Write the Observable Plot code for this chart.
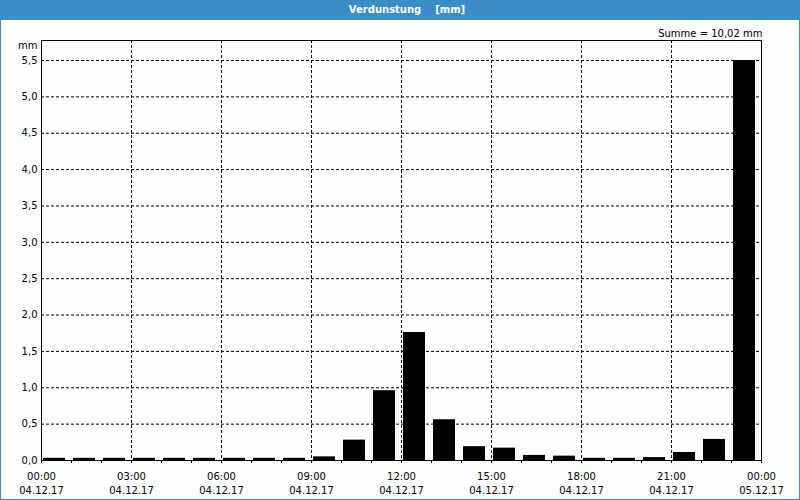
<!DOCTYPE html>
<html>
<head>
<meta charset="utf-8">
<script src="https://cdn.jsdelivr.net/npm/d3@7"></script>
<script src="https://cdn.jsdelivr.net/npm/@observablehq/plot@0.6"></script>
<style>
  html, body { margin: 0; padding: 0; background: #ffffff; }
  #frame { position: relative; width: 798px; height: 479px; border: 1px solid #3c8fc6; border-top: none; background: #fdfefe; overflow: hidden; }
  #titlebar { width: 800px; height: 20px; background: #3c8fc6; color: #ffffff; font: bold 10px "DejaVu Sans", sans-serif; text-align: center; line-height: 20px; white-space: pre; }
  #titlebar span { position: relative; left: 7px; }
  svg { display: block; }
</style>
</head>
<body>
<div id="titlebar"><span>Verdunstung    [mm]</span></div>
<div id="frame"></div>
<script>
// Hourly evaporation values (mm), 04.12.17 00:00 .. 05.12.17 00:00
const hours = [0,1,2,3,4,5,6,7,8,9,10,11,12,13,14,15,16,17,18,19,20,21,22,23];
const values = [0.03,0.03,0.03,0.03,0.03,0.03,0.03,0.03,0.03,0.05,0.28,0.96,1.76,0.56,0.19,0.17,0.07,0.06,0.03,0.03,0.04,0.11,0.29,5.50];
const tickHours = [0,3,6,9,12,15,18,21,24];
const timeLabels = ["00:00","03:00","06:00","09:00","12:00","15:00","18:00","21:00","00:00"];
const dateLabels = ["04.12.17","04.12.17","04.12.17","04.12.17","04.12.17","04.12.17","04.12.17","04.12.17","05.12.17"];
const yTicks = [0,0.5,1,1.5,2,2.5,3,3.5,4,4.5,5,5.5];
const unitLabel = "mm";
const sumLabel = "Summe = 10,02 mm";

const data = hours.map((h, i) => ({h, v: values[i]}));
const fmt = v => v.toFixed(1).replace(".", ",");

const chart = Plot.plot({
  width: 798,
  height: 478,
  marginLeft: 40,
  marginRight: 38,
  marginTop: 20,
  marginBottom: 38,
  style: {fontFamily: "'DejaVu Sans', sans-serif", fontSize: "10px", color: "#000", background: "transparent"},
  x: {domain: [0, 24]},
  y: {domain: [0, 5.775]},
  marks: [
    Plot.ruleY(yTicks.filter(d => d > 0), {stroke: "#000", strokeDasharray: "3,2"}),
    Plot.ruleX(tickHours.filter(d => d > 0 && d < 24), {stroke: "#000", strokeDasharray: "3,2"}),
    Plot.rectY(data, {x1: "h", x2: d => d.h + 1, y: "v", fill: "#000", insetLeft: 2, insetRight: 6}),
    Plot.axisX({ticks: d3.range(0, 25), tickSize: 3, tickFormat: () => "", label: null, stroke: "#000"}),
    Plot.axisX({ticks: tickHours, tickSize: 0, tickPadding: 9, lineHeight: 1.45, label: null,
      tickFormat: d => timeLabels[tickHours.indexOf(d)] + "\n" + dateLabels[tickHours.indexOf(d)], fill: "#000"}),
    Plot.axisY({ticks: yTicks, tickSize: 0, tickPadding: 4, tickFormat: fmt, label: null, fill: "#000"}),
    Plot.text([unitLabel], {text: d => d, frameAnchor: "top-left", lineAnchor: "middle", textAnchor: "end", dx: -4, dy: 5, fill: "#000"}),
    Plot.text([sumLabel], {text: d => d, frameAnchor: "top-right", lineAnchor: "middle", textAnchor: "end", dx: 1, dy: -7, fill: "#000"}),
    Plot.frame({stroke: "#000"})
  ]
});
document.getElementById("frame").appendChild(chart);
</script>
</body>
</html>
